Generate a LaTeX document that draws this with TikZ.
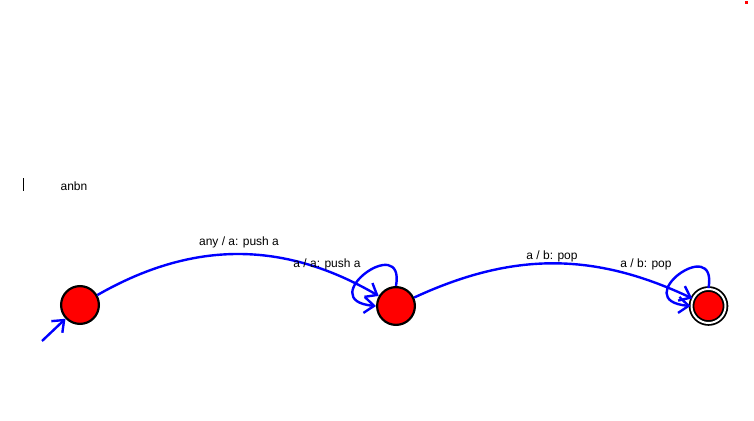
\documentclass[tikz,border=0pt]{standalone}
\usepackage{fontspec}
\setmainfont{Liberation Sans}
\usetikzlibrary{positioning, arrows.meta}
\definecolor{EdgeBlue}{HTML}{0000FF}
\definecolor{StateRed}{HTML}{FF0000}
\tikzset{
    state/.style={circle, draw=black, fill=StateRed, line width=2.2pt, minimum size=37.8pt, inner sep=0pt},
    final/.style={circle, draw=black, fill=StateRed, line width=1.8pt, double=white, double distance=2pt, minimum size=34pt, inner sep=0pt},
    trans/.style={-{Straight Barb[length=10pt, width=16pt]}, line width=2.4pt, color=EdgeBlue},
    lbl/.style={font=\fontsize{12}{14}\selectfont, text=black, inner sep=1pt},
}
\begin{document}
\begin{tikzpicture}[x=1pt, y=1pt]
                \useasboundingbox (0,0) rectangle (754,420);

                % Zustaende
                \node[state] (q0) at (80,115) {};
                \node[state] (q1) at (396,114) {};
                \node[final] (q2) at (708.5,114) {};

                % Start
                \coordinate (start) at (42,79);
                \draw[trans] (start) -- (q0);

                % Uebergaenge
                \draw[trans] (q0) to[bend left=30] (q1);
                \draw[trans] (q1) to[bend left=25] (q2);
                \draw[trans] (q1.north) .. controls +(80:56) and +(175:64) .. (q1.west);
                \draw[trans] (q2.north) .. controls +(80:56) and +(175:64) .. (q2.west);

                % Beschriftungen
                \node[lbl] (l01) at (239,178) {any / a: push a};
                \node[lbl] (l11) at (327,156) {a / a: push a};
                \node[lbl] (l12) at (552,164) {a / b: pop};
                \node[lbl] (l22) at (646,156) {a / b: pop};
                \node[lbl] (name) at (74,234) {anbn};

                % Cursor und Punkt
                \draw[black, line width=0.8pt] (23,229) -- (23,242);
                \fill[StateRed] (744.5,415.5) rectangle (748,419);
            \end{tikzpicture}
\end{document}
